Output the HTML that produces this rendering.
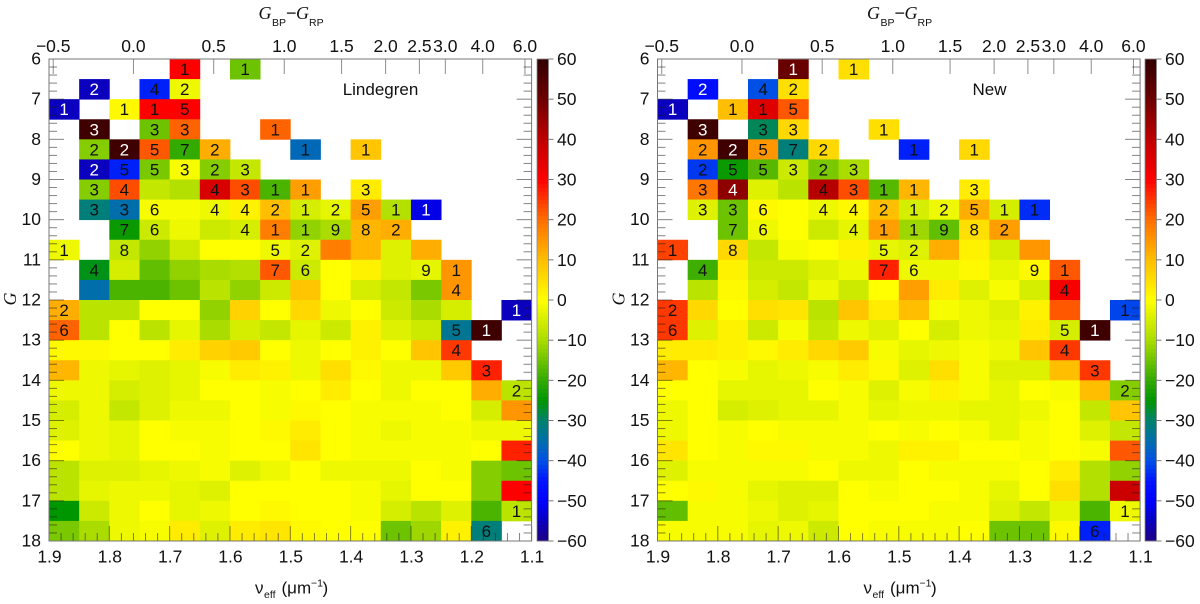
<!DOCTYPE html>
<html lang="en">
<head>
<meta charset="utf-8">
<title>Lindegren vs New residual maps</title>
<style>
html,body{margin:0;padding:0;background:#fff;}
svg{display:block;font-family:"Liberation Sans",sans-serif;fill:#111;}
</style>
</head>
<body>
<svg id="figure" xmlns="http://www.w3.org/2000/svg" width="1200" height="604" viewBox="0 0 1200 604"></svg>
<script>
const _ = null;
const lowerTickLabels = ["1.9","1.8","1.7","1.6","1.5","1.4","1.3","1.2","1.1"];
const lowerTickValues = [1.9,1.8,1.7,1.6,1.5,1.4,1.3,1.2,1.1];
const upperTickLabels = ["\u22120.5","0.0","0.5","1.0","1.5","2.0","2.5","3.0","4.0","6.0"];
const upperTickNu = [1.893,1.760,1.627,1.510,1.415,1.342,1.286,1.243,1.181,1.111];
const magnitudeTicks = [6,7,8,9,10,11,12,13,14,15,16,17,18];
const colorbarTicks = [60,50,40,30,20,10,0,-10,-20,-30,-40,-50,-60];
const starCounts = [
[0,0,0,0,1,0,1,0,0,0,0,0,0,0,0,0],
[0,2,0,4,2,0,0,0,0,0,0,0,0,0,0,0],
[1,0,1,1,5,0,0,0,0,0,0,0,0,0,0,0],
[0,3,0,3,3,0,0,1,0,0,0,0,0,0,0,0],
[0,2,2,5,7,2,0,0,1,0,1,0,0,0,0,0],
[0,2,5,5,3,2,3,0,0,0,0,0,0,0,0,0],
[0,3,4,0,0,4,3,1,1,0,3,0,0,0,0,0],
[0,3,3,6,0,4,4,2,1,2,5,1,1,0,0,0],
[0,0,7,6,0,0,4,1,1,9,8,2,0,0,0,0],
[1,0,8,0,0,0,0,5,2,0,0,0,0,0,0,0],
[0,4,0,0,0,0,0,7,6,0,0,0,9,1,0,0],
[0,0,0,0,0,0,0,0,0,0,0,0,0,4,0,0],
[2,0,0,0,0,0,0,0,0,0,0,0,0,0,0,1],
[6,0,0,0,0,0,0,0,0,0,0,0,0,5,1,0],
[0,0,0,0,0,0,0,0,0,0,0,0,0,4,0,0],
[0,0,0,0,0,0,0,0,0,0,0,0,0,0,3,0],
[0,0,0,0,0,0,0,0,0,0,0,0,0,0,0,2],
[0,0,0,0,0,0,0,0,0,0,0,0,0,0,0,0],
[0,0,0,0,0,0,0,0,0,0,0,0,0,0,0,0],
[0,0,0,0,0,0,0,0,0,0,0,0,0,0,0,0],
[0,0,0,0,0,0,0,0,0,0,0,0,0,0,0,0],
[0,0,0,0,0,0,0,0,0,0,0,0,0,0,0,0],
[0,0,0,0,0,0,0,0,0,0,0,0,0,0,0,1],
[0,0,0,0,0,0,0,0,0,0,0,0,0,0,6,0]
];
const lindegrenResiduals = [
[_,_,_,_,30,_,-15,_,_,_,_,_,_,_,_,_],
[_,-55,_,-44,-2,_,_,_,_,_,_,_,_,_,_,_],
[-55,_,1,30,30,_,_,_,_,_,_,_,_,_,_,_],
[_,58,_,-15,21,_,_,21,_,_,_,_,_,_,_,_],
[_,-13,58,22,-20,12,_,_,-36,_,9,_,_,_,_,_],
[_,-55,-44,-14,-1,-13,-7,_,_,_,_,_,_,_,_,_],
[_,-13,23,-7,-9,36,23,-18,14,_,3,_,_,_,_,_],
[_,-31,-35,-1,-1,-2,2,10,-5,-3,14,-9,-52,_,_,_],
[_,_,-24,-6,-2,-6,-5,18,-12,-10,11,12,_,_,_,_],
[-2,_,-7,-12,-6,0,0,-2,-4,18,11,-4,12,_,_,_],
[_,-26,-5,-16,-12,-10,-9,22,-6,0,2,-4,-3,15,_,_],
[_,-35,-18,-18,-15,-8,-12,-6,9,0,-5,-7,-14,15,_,_],
[12,-8,-8,0,0,-12,7,0,6,-2,0,-6,-10,-5,_,-55],
[21,-8,0,-8,-3,-10,-5,-7,-3,-6,2,-4,-6,-33,58,_],
[1,1,0,0,3,7,8,0,-2,0,2,0,9,25,_,_],
[11,-2,-3,-4,-3,-1,3,2,-2,5,1,-2,-2,8,27,_],
[-2,-2,-5,-4,-3,0,0,-1,0,3,0,-2,0,0,12,-8],
[-5,-2,-7,-4,-2,-2,0,-1,1,0,-1,-1,-1,0,-5,15],
[-4,-2,-3,0,-1,-1,0,1,3,0,-1,-2,-1,-1,-2,-2],
[0,-2,-3,0,0,-1,0,0,4,0,-1,-1,-1,-1,0,27],
[-8,-4,-4,-3,-2,-1,-4,-2,0,-2,-2,-2,0,-1,-13,-15],
[-8,-3,-2,-2,-3,-4,0,0,0,0,-1,-3,0,0,-13,30],
[-25,-6,-2,0,-3,-2,0,1,0,0,-1,-5,-8,-4,-18,-8],
[-14,-10,-2,-1,3,-4,3,4,1,0,0,-15,-11,2,-31,_]
];
const newResiduals = [
[_,_,_,_,51,_,5,_,_,_,_,_,_,_,_,_],
[_,-47,_,-40,5,_,_,_,_,_,_,_,_,_,_,_],
[-55,_,10,35,22,_,_,_,_,_,_,_,_,_,_,_],
[_,58,_,-29,6,_,_,5,_,_,_,_,_,_,_,_],
[_,15,58,15,-31,6,_,_,-44,_,6,_,_,_,_,_],
[_,-42,-24,-17,-6,-14,-10,_,_,_,_,_,_,_,_,_],
[_,19,46,-4,-8,41,23,-17,11,_,3,_,_,_,_,_],
[_,-4,-15,1,0,-2,1,10,-5,-2,12,-5,-43,_,_,_],
[_,_,-15,-2,0,-6,-3,14,-11,-16,5,14,_,_,_,_],
[24,_,6,-7,-1,0,2,-3,-4,12,2,-5,15,_,_,_],
[_,-19,2,-6,-6,-4,-2,27,-2,-2,1,-3,1,22,_,_],
[_,-8,1,-5,-7,-2,-6,0,14,3,-4,-1,-5,31,_,_],
[25,6,0,5,4,-8,9,3,10,-1,-2,-4,2,22,_,-41],
[25,-4,2,-6,-1,-7,-2,-4,0,-5,-2,-3,3,-5,58,_],
[3,3,2,1,3,6,8,-1,-3,-2,-1,-2,9,25,_,_],
[11,0,-1,-3,-2,-1,3,1,-4,5,-1,-4,-4,10,25,_],
[0,0,-3,-3,-3,0,-1,-4,-1,2,-1,-3,0,-1,10,-13],
[-2,0,-5,-4,-3,-3,-1,-3,-2,-2,-3,-3,-2,0,-7,9],
[-2,0,-1,0,-1,-1,-1,0,-1,0,-1,-3,-1,0,-4,-7],
[4,0,-1,1,1,-1,-1,-2,2,2,0,0,-1,0,-1,22],
[-4,-1,-1,-1,-1,0,-2,-2,0,-1,-1,-1,0,3,-9,-12],
[0,1,-1,-3,-4,-4,0,-1,0,0,-1,-3,0,5,-9,38],
[-16,-1,-1,-2,-4,-3,0,0,0,-1,-1,-4,-7,-3,-18,-2],
[-1,-1,-1,-3,-2,-6,0,-1,-1,-1,0,-15,-15,1,-44,_]
];

const NS = "http://www.w3.org/2000/svg";
const root = document.getElementById("figure");
const rampStops = [[-60,30,0,130],[-55,10,0,190],[-50,0,0,255],[-45,0,20,255],[-40,0,80,230],[-35,0,110,170],[-30,0,130,110],[-25,0,150,0],[-20,50,170,0],[-10,170,220,0],[0,255,255,0],[10,255,190,0],[20,255,110,0],[30,255,0,0],[40,190,0,0],[50,110,0,0],[60,50,0,0]];
function rampColor(v){
  for(let i=1;i<rampStops.length;i++){
    const a=rampStops[i-1],b=rampStops[i];
    if(v<=b[0]){
      const t=Math.max(0,(v-a[0])/(b[0]-a[0]));
      return "rgb("+[1,2,3].map(k=>Math.round(a[k]+(b[k]-a[k])*t)).join(",")+")";
    }
  }
  return "rgb(50,0,0)";
}
function make(parent,tag,attrs,content){
  const node=document.createElementNS(NS,tag);
  for(const k in attrs){node.setAttribute(k,attrs[k]);}
  if(content!==undefined){node.textContent=content;}
  parent.appendChild(node);
  return node;
}
const TOP=59,BOTTOM=541,WIDTH=482.6,HEIGHT=BOTTOM-TOP;
const TICKC="rgba(30,30,30,.55)";
const TICKFONT=17.5;

function drawPanel(opts){
  const L=opts.left,R=L+WIDTH;
  const xScale=nu=>L+(1.9-nu)/0.8*WIDTH;
  const yScale=g=>TOP+(g-6)/12*HEIGHT;
  const panel=make(root,"g",{});
  
  

  opts.values.forEach((row,r)=>{
    row.forEach((v,c)=>{
      if(v===null){return;}
      const x0=xScale(1.9-c*0.05),x1=xScale(1.9-(c+1)*0.05);
      const y0=yScale(6+r*0.5),y1=yScale(6+(r+1)*0.5);
      const cell=make(panel,"rect",{x:x0,y:y0,width:x1-x0+0.4,height:y1-y0+0.4,fill:rampColor(v)});
      
      
    });
  });

  // minor and major ticks
  for(let i=0;i<=60;i++){
    const g=6+i*0.2;
    const len=(i%5===0)?15:8;
    const y=yScale(g);
    const lt=make(panel,"line",{x1:L,x2:L+len,y1:y,y2:y,stroke:TICKC,"stroke-width":1});
    
    
    const rt=make(panel,"line",{x1:R,x2:R-len,y1:y,y2:y,stroke:TICKC,"stroke-width":1});
    
    
  }
  for(let i=0;i<=40;i++){
    const nu=1.9-i*0.02;
    const len=(i%5===0)?15:8;
    const x=xScale(nu);
    const bt=make(panel,"line",{x1:x,x2:x,y1:BOTTOM,y2:BOTTOM-len,stroke:TICKC,"stroke-width":1});
    
    
  }
  upperTickNu.forEach(nu=>{
    const x=xScale(nu);
    const tt=make(panel,"line",{x1:x,x2:x,y1:TOP,y2:TOP+15,stroke:"rgba(30,30,30,.5)","stroke-width":1});
    
    
  });

  const frame=make(panel,"rect",{x:L,y:TOP,width:WIDTH,height:HEIGHT,fill:"none",stroke:"#777","stroke-width":1});
  
  

  // counts
  starCounts.forEach((row,r)=>{
    row.forEach((n,c)=>{
      if(!n){return;}
      const v=opts.values[r][c];
      const dark=v!==null&&(v<=-46||v>=45);
      const x=xScale(1.9-(c+0.5)*0.05);
      const y=yScale(6+(r+0.5)*0.5)+6;
      const t=make(panel,"text",{x:x,y:y,"text-anchor":"middle","font-size":17,fill:dark?"#fff":"#111"},String(n));
      
      
    });
  });

  // tick labels
  lowerTickValues.forEach((nu,i)=>{
    const t=make(panel,"text",{x:xScale(nu)+0.5,y:562.5,"text-anchor":"middle","font-size":TICKFONT},lowerTickLabels[i]);
    
    
  });
  upperTickNu.forEach((nu,i)=>{
    const t=make(panel,"text",{x:xScale(nu),y:52,"text-anchor":"middle","font-size":TICKFONT},upperTickLabels[i]);
    
    
  });
  magnitudeTicks.forEach(g=>{
    const t=make(panel,"text",{x:L-8,y:yScale(g)+5.5,"text-anchor":"end","font-size":TICKFONT},String(g));
    
    
  });

  // titles
  const top=make(panel,"text",{y:19,"font-size":18});
  
  
  const off=L-49;
  make(top,"tspan",{x:258.5+off,"font-family":"Liberation Serif,serif","font-style":"italic"},"G");
  make(top,"tspan",{x:272+off,y:26,"font-size":10.5},"BP");
  make(top,"tspan",{x:286+off,y:19,"font-size":18},"\u2212");
  make(top,"tspan",{x:296+off,y:19,"font-family":"Liberation Serif,serif","font-style":"italic"},"G");
  make(top,"tspan",{x:309+off,y:26,"font-size":10.5},"RP");

  const yt=make(panel,"text",{transform:"translate("+(16+off)+",299) rotate(-90)","text-anchor":"middle","font-size":18,"font-family":"Liberation Serif,serif","font-style":"italic"},"G");
  
  

  const xt=make(panel,"text",{y:593.5,"font-size":17});
  
  
  make(xt,"tspan",{x:255+off},"\u03bd");
  make(xt,"tspan",{x:264+off,y:598,"font-size":10.5},"eff");
  make(xt,"tspan",{x:281.5+off,y:593.5},"(\u03bcm");
  make(xt,"tspan",{x:311+off,y:586.5,"font-size":10.5},"\u22121");
  make(xt,"tspan",{x:322.5+off,y:593.5},")");

  const title=make(panel,"text",{x:opts.titleX,y:95,"text-anchor":"middle","font-size":17},opts.title);
  
  

  // colour bar
  const bx=opts.barX,bw=11.5;
  const cScale=v=>TOP+(60-v)/120*HEIGHT;
  for(let v=-60;v<60;v+=1){
    const seg=make(panel,"rect",{x:bx,y:cScale(v+1),width:bw,height:cScale(v)-cScale(v+1)+0.4,fill:rampColor(v+0.5)});
    
    
  }
  const bf=make(panel,"rect",{x:bx,y:TOP,width:bw,height:HEIGHT,fill:"none",stroke:"#888","stroke-width":0.8});
  
  
  colorbarTicks.forEach(v=>{
    const y=cScale(v);
    const tk=make(panel,"line",{x1:bx+bw,x2:bx+bw+5,y1:y,y2:y,stroke:"#777","stroke-width":1});
    
    
    const label=v<0?"\u2212"+(-v):String(v);
    const lb=make(panel,"text",{x:bx+20,y:y+6,"font-size":TICKFONT},label);
    
    
  });
}

drawPanel({name:"lindegren",title:"Lindegren",titleX:380.5,left:49,barX:537,values:lindegrenResiduals});
drawPanel({name:"new",title:"New",titleX:989.5,left:657.5,barX:1145,values:newResiduals});
</script>
</body>
</html>
